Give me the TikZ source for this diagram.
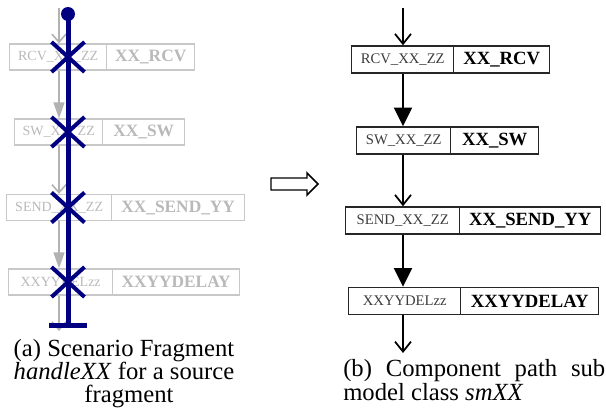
\documentclass[tikz,border=0pt]{standalone}
\usepackage{fontspec}
\setmainfont{Liberation Serif}
\usetikzlibrary{arrows.meta,shapes.misc}

\definecolor{pathblue}{RGB}{0,0,128}
\definecolor{fadeline}{RGB}{200,200,200}
\definecolor{fadetext}{RGB}{185,185,185}
\definecolor{fadearrow}{RGB}{178,178,178}
\definecolor{darktext}{RGB}{60,60,60}

\begin{document}
\begin{tikzpicture}[x=0.75pt,y=-0.75pt,
  wd/.style={minimum width=#1*0.75pt},
  % right column: component path sub model
  rbox/.style={draw=black!85, rectangle, inner sep=0pt, anchor=west,
               minimum height=20.25pt, line width=1.1pt},
  rname/.style={rbox, text=darktext, font=\fontsize{11pt}{13pt}\selectfont},
  rbold/.style={rbox, text=black, font=\fontsize{14pt}{16pt}\selectfont\bfseries},
  rflow/.style={line width=1.5pt, -{Triangle[length=14pt,width=13.5pt]}},
  rbarb/.style={line width=1.3pt, -{Straight Barb[length=7.5pt,width=12pt,line width=1.3pt]}},
  % left column: faded scenario fragment
  lbox/.style={draw=fadeline, rectangle, inner sep=0pt, anchor=west,
               minimum height=19.5pt, line width=1pt},
  lname/.style={lbox, text=fadetext, font=\fontsize{10.5pt}{12pt}\selectfont},
  lbold/.style={lbox, text=fadetext, font=\fontsize{13pt}{15pt}\selectfont\bfseries},
  lflow/.style={fadearrow, line width=1.2pt, -{Triangle[length=12pt,width=8.25pt]}},
  lbarb/.style={fadearrow, line width=1.2pt, -{Straight Barb[length=6pt,width=10.5pt,line width=1.2pt]}},
  % scenario path
  ucm/.style={pathblue, line width=3.75pt},
  stub/.style={draw=pathblue, cross out, inner sep=0pt, line width=3pt,
               minimum width=21.75pt, minimum height=19.5pt},
  captext/.style={inner sep=0pt, font=\fontsize{18.5pt}{20pt}\selectfont}
]
\useasboundingbox (0,0) rectangle (606,414);

% ---------- (a) scenario fragment ----------
\node[lname, wd=97]  (lA1) at (9,57)    {RCV\_XX\_ZZ};
\node[lbold, wd=88]  (lB1) at (106,57)  {XX\_RCV};
\node[lname, wd=88]  (lA2) at (14,132)  {SW\_XX\_ZZ};
\node[lbold, wd=82]  (lB2) at (102,132) {XX\_SW};
\node[lname, wd=105] (lA3) at (6,207.5) {SEND\_XX\_ZZ};
\node[lbold, wd=133] (lB3) at (111,207.5) {XX\_SEND\_YY};
\node[lname, wd=104] (lA4) at (8,282)   {XXYYDELzz};
\node[lbold, wd=127] (lB4) at (112,282) {XXYYDELAY};

\coordinate (lin)  at (59,8);
\coordinate (lout) at (59,331);
\draw[lbarb] (lin) -- (lA1.north -| lin);
\draw[lflow] (lA1.south -| lin) -- (lA2.north -| lin);
\draw[lbarb] (lA2.south -| lin) -- (lA3.north -| lin);
\draw[lflow] (lA3.south -| lin) -- (lA4.north -| lin);
\draw[lbarb] (lA4.south -| lin) -- (lout);

\coordinate (ustart) at (68,14);
\coordinate (uend)   at (68,325);
\draw[ucm] (ustart) -- (uend);
\fill[pathblue] (ustart) circle (5.25pt);
\draw[ucm] ([xshift=-14.25pt]uend) -- ([xshift=14.25pt]uend);
\node[stub] (x1) at (lA1 -| ustart) {};
\node[stub] (x2) at (lA2 -| ustart) {};
\node[stub] (x3) at (lA3 -| ustart) {};
\node[stub] (x4) at (lA4 -| ustart) {};

% ---------- transformation arrow ----------
\draw[line width=1.1pt] (271,178) -- (307,178) -- (307,173) -- (318,184)
  -- (307,195) -- (307,190) -- (271,190) -- cycle;

% ---------- (b) component path sub model ----------
\node[rname, wd=102] (rA1) at (351,59.5)  {RCV\_XX\_ZZ};
\node[rbold, wd=96]  (rB1) at (453,59.5)  {XX\_RCV};
\node[rname, wd=94]  (rA2) at (356,140.5) {SW\_XX\_ZZ};
\node[rbold, wd=88]  (rB2) at (450,140.5) {XX\_SW};
\node[rname, wd=114] (rA3) at (345,220.5) {SEND\_XX\_ZZ};
\node[rbold, wd=141] (rB3) at (459,220.5) {XX\_SEND\_YY};
\node[rname, wd=112] (rA4) at (348,301)   {XXYYDELzz};
\node[rbold, wd=138] (rB4) at (460,301)   {XXYYDELAY};

\coordinate (rin)  at (403,8);
\coordinate (rout) at (403,353);
\draw[rbarb] (rin) -- (rA1.north -| rin);
\draw[rflow] (rA1.south -| rin) -- (rA2.north -| rin);
\draw[rbarb] (rA2.south -| rin) -- (rA3.north -| rin);
\draw[rflow] (rA3.south -| rin) -- (rA4.north -| rin);
\draw[rbarb] (rA4.south -| rin) -- (rout);

% ---------- captions ----------
\node[captext, anchor=base] (capA1) at (124,356) {(a) Scenario Fragment};
\node[captext, anchor=base] (capA2) at (124,379) {\textit{handleXX} for a source};
\node[captext, anchor=base] (capA3) at (129,402) {fragment};
\node[captext, anchor=base west] (capB1) at (343,376)
  {\makebox[196.5pt][s]{(b) Component path sub}};
\node[captext, anchor=base west] (capB2) at (343,400) {model class \textit{smXX}};
\end{tikzpicture}
\end{document}
